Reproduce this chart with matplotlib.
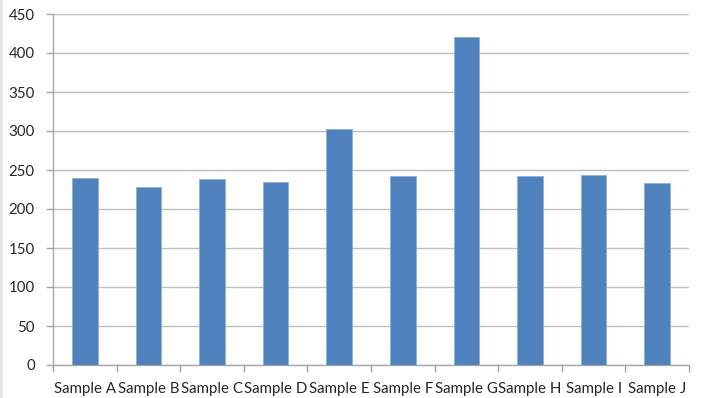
import matplotlib
matplotlib.use("Agg")
import matplotlib.pyplot as plt
from matplotlib.patches import Rectangle
import numpy as np

categories = ["Sample A", "Sample B", "Sample C", "Sample D", "Sample E",
              "Sample F", "Sample G", "Sample H", "Sample I", "Sample J"]
values = [240, 228, 238, 235, 302, 242, 420, 242, 243, 233]
y_ticks = [0, 50, 100, 150, 200, 250, 300, 350, 400, 450]

plt.rcParams["font.family"] = ["Lato", "DejaVu Sans"]

fig = plt.figure(figsize=(7.02, 3.98), dpi=100)
# thin grey frame strip along the left edge
fig.patches.append(Rectangle((0, 0), 3 / 702, 1, transform=fig.transFigure,
                             facecolor="#E6E6E6", edgecolor="none"))

ax = fig.add_axes([53 / 702, 33 / 398, 636 / 702, 351 / 398])

x = np.arange(len(categories))
ax.bar(x, values, width=0.4, color="#4F81BD", edgecolor="#8FB0DA",
       linewidth=0.6, zorder=3)

ax.set_xlim(-0.5, len(categories) - 0.5)
ax.set_ylim(0, 450)
ax.set_yticks(y_ticks)
ax.yaxis.grid(True, color="#BDBDBD", linewidth=1.0, zorder=0)

ax.set_xticks(x)
ax.set_xticklabels(categories, fontsize=10.8, color="#262626")
ax.set_xticks(np.arange(len(categories) + 1) - 0.5, minor=True)
ax.tick_params(axis="x", which="major", length=0, pad=12)
ax.tick_params(axis="x", which="minor", length=5, color="#A6A6A6", width=1)
ax.tick_params(axis="y", length=5, color="#A6A6A6", width=1, pad=8,
               labelsize=10.8, labelcolor="#262626")

for side in ("top", "right"):
    ax.spines[side].set_visible(False)
for side in ("left", "bottom"):
    ax.spines[side].set_color("#A6A6A6")
    ax.spines[side].set_linewidth(1)

fig.savefig("out.png", dpi=100)
